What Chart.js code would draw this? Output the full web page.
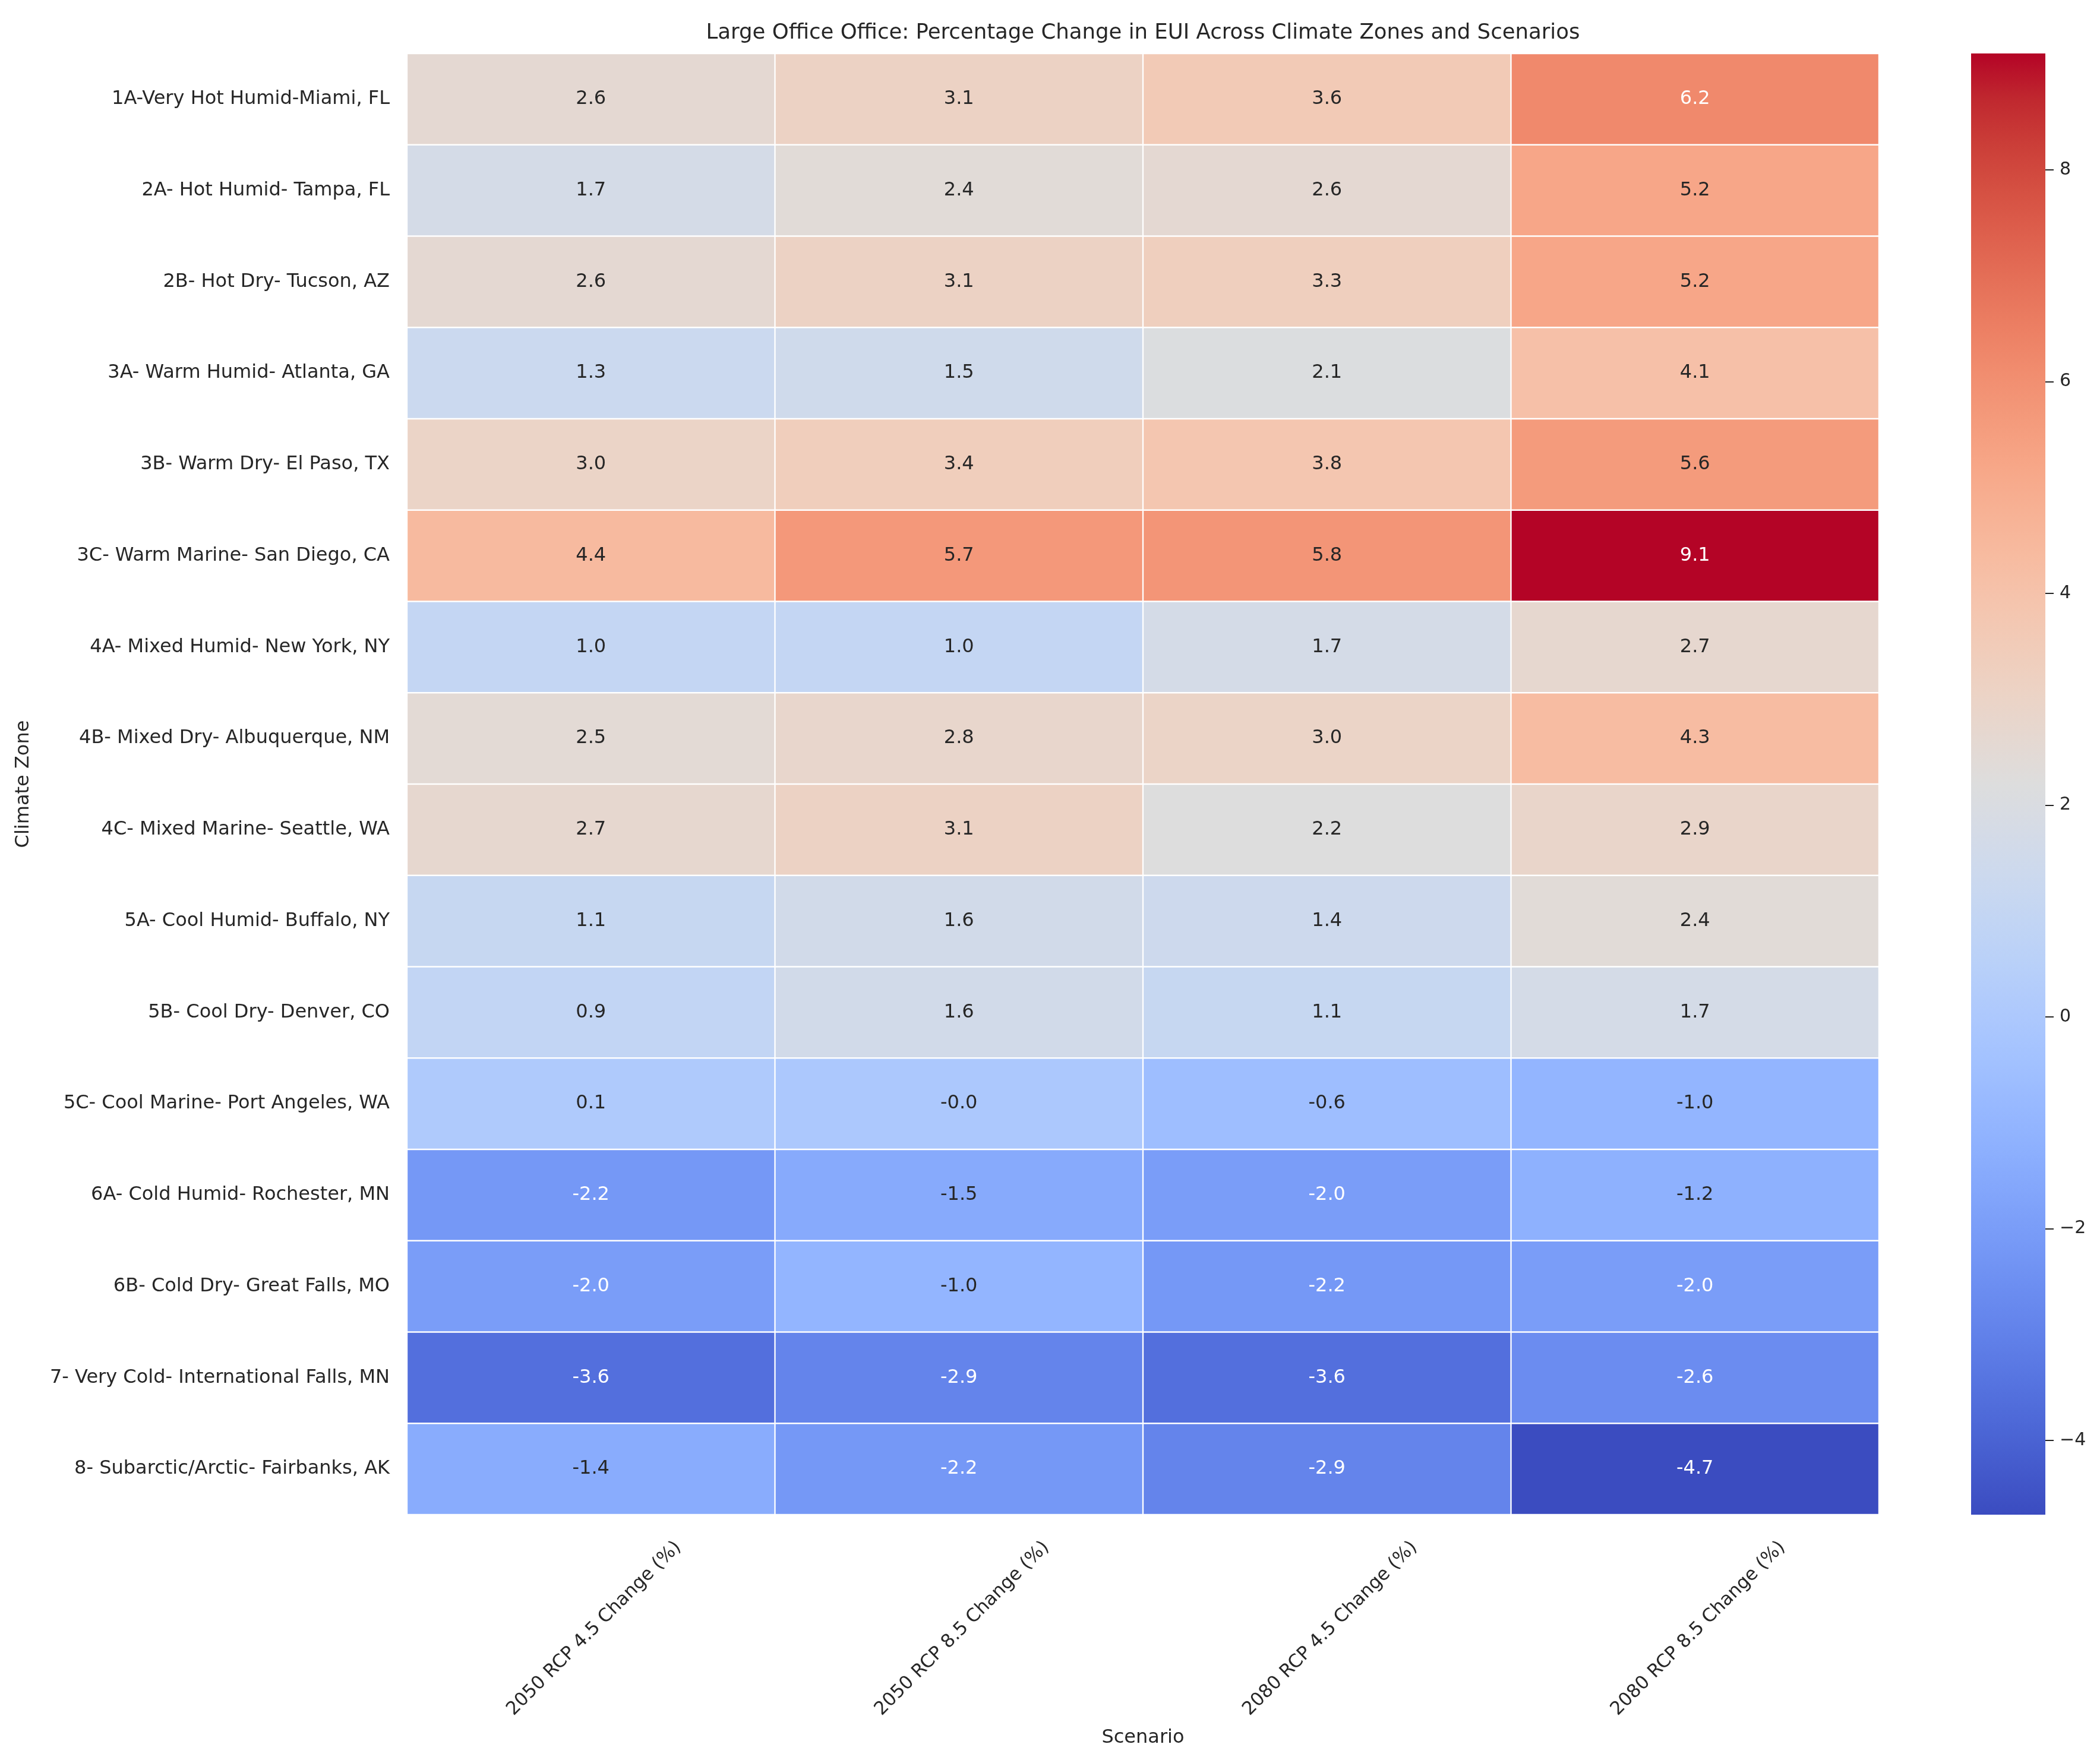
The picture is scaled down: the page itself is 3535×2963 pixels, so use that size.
<!DOCTYPE html>
<html>
<head>
<meta charset="utf-8">
<script src="https://cdn.jsdelivr.net/npm/chart.js@4.4.1/dist/chart.umd.min.js"></script>
<style>
  html, body { margin: 0; padding: 0; background: #ffffff; }
  #wrap { position: relative; width: 3535px; height: 2963px; }
  canvas { position: absolute; top: 0; }
</style>
</head>
<body>
<div id="wrap">
  <canvas id="heatChart" width="3535" height="2963" style="left:0;width:3535px;height:2963px"></canvas>
  <canvas id="scaleChart" width="217" height="2963" style="left:3318px;width:217px;height:2963px"></canvas>
</div>
<script>
// Climate zones (rows, top to bottom)
var zones = [
    '1A-Very Hot Humid-Miami, FL',
    '2A- Hot Humid- Tampa, FL',
    '2B- Hot Dry- Tucson, AZ',
    '3A- Warm Humid- Atlanta, GA',
    '3B- Warm Dry- El Paso, TX',
    '3C- Warm Marine- San Diego, CA',
    '4A- Mixed Humid- New York, NY',
    '4B- Mixed Dry- Albuquerque, NM',
    '4C- Mixed Marine- Seattle, WA',
    '5A- Cool Humid- Buffalo, NY',
    '5B- Cool Dry- Denver, CO',
    '5C- Cool Marine- Port Angeles, WA',
    '6A- Cold Humid- Rochester, MN',
    '6B- Cold Dry- Great Falls, MO',
    '7- Very Cold- International Falls, MN',
    '8- Subarctic/Arctic- Fairbanks, AK'
];

// Scenarios (columns)
var scenarios = [
    '2050 RCP 4.5 Change (%)',
    '2050 RCP 8.5 Change (%)',
    '2080 RCP 4.5 Change (%)',
    '2080 RCP 8.5 Change (%)'
];

// Percentage change in EUI, one array per scenario
var rcp45_2050 = [2.6, 1.7, 2.6, 1.3, 3.0, 4.4, 1.0, 2.5, 2.7, 1.1, 0.9, 0.1, -2.2, -2.0, -3.6, -1.4];
var rcp85_2050 = [3.1, 2.4, 3.1, 1.5, 3.4, 5.7, 1.0, 2.8, 3.1, 1.6, 1.6, -0.02, -1.5, -1.0, -2.9, -2.2];
var rcp45_2080 = [3.6, 2.6, 3.3, 2.1, 3.8, 5.8, 1.7, 3.0, 2.2, 1.4, 1.1, -0.6, -2.0, -2.2, -3.6, -2.9];
var rcp85_2080 = [6.2, 5.2, 5.2, 4.1, 5.6, 9.1, 2.7, 4.3, 2.9, 2.4, 1.7, -1.0, -1.2, -2.0, -2.6, -4.7];
var seriesValues = [rcp45_2050, rcp85_2050, rcp45_2080, rcp85_2080];

// colour bar range and ticks
var cbMin = -4.7;
var cbMax = 9.1;
var cbTicks = [-4, -2, 0, 2, 4, 6, 8];

// coolwarm colormap (33 steps)
var coolwarm = [
    [59,76,192],[68,90,204],[77,104,215],[87,117,225],[98,130,234],[108,142,241],
    [119,154,247],[130,165,251],[141,176,254],[152,185,255],[163,194,255],[174,201,253],
    [184,208,249],[194,213,244],[204,217,238],[213,219,230],[221,221,221],[229,216,209],
    [236,211,197],[241,204,185],[245,196,173],[247,187,160],[247,177,148],[247,166,135],
    [244,154,123],[241,141,111],[236,127,99],[229,112,88],[222,96,77],[213,80,66],
    [203,62,56],[192,40,47],[180,4,38]
];

var FONT = 'DejaVu Sans';
var TEXT = '#262626';

function mapColor(v) {
    var t = (v - cbMin) / (cbMax - cbMin);
    t = Math.max(0, Math.min(1, t));
    var p = t * (coolwarm.length - 1);
    var i = Math.min(coolwarm.length - 2, Math.floor(p));
    var f = p - i;
    var a = coolwarm[i], b = coolwarm[i + 1];
    return [0, 1, 2].map(function (k) { return Math.round(a[k] + (b[k] - a[k]) * f); });
}
function rgb(c) { return 'rgb(' + c[0] + ',' + c[1] + ',' + c[2] + ')'; }
function luminance(c) {
    var l = c.map(function (v) {
        v = v / 255;
        return v <= 0.03928 ? v / 12.92 : Math.pow((v + 0.055) / 1.055, 2.4);
    });
    return 0.2126 * l[0] + 0.7152 * l[1] + 0.0722 * l[2];
}

// write the value in each cell
var cellLabels = {
    id: 'cellLabels',
    afterDatasetsDraw: function (chart) {
        var ctx = chart.ctx;
        ctx.save();
        ctx.font = '32px "' + FONT + '"';
        ctx.textAlign = 'center';
        ctx.textBaseline = 'middle';
        chart.data.datasets.forEach(function (ds, j) {
            chart.getDatasetMeta(j).data.forEach(function (bar, i) {
                var v = seriesValues[j][i];
                ctx.fillStyle = luminance(mapColor(v)) > 0.408 ? TEXT : '#ffffff';
                ctx.fillText(v.toFixed(1), (bar.x + bar.base) / 2, bar.y);
            });
        });
        ctx.restore();
    }
};

// title centred over the heatmap
var heatTitle = {
    id: 'heatTitle',
    afterDraw: function (chart) {
        var ctx = chart.ctx, a = chart.chartArea;
        ctx.save();
        ctx.font = '35.5px "' + FONT + '"';
        ctx.fillStyle = TEXT;
        ctx.textAlign = 'center';
        ctx.textBaseline = 'middle';
        ctx.fillText('Large Office Office: Percentage Change in EUI Across Climate Zones and Scenarios', (a.left + a.right) / 2, 56);
        ctx.restore();
    }
};

var heatChart = new Chart(document.getElementById('heatChart'), {
    type: 'bar',
    data: {
        labels: zones,
        datasets: scenarios.map(function (name, j) {
            return {
                label: name,
                data: zones.map(function () { return [j, j + 1]; }),
                backgroundColor: seriesValues[j].map(function (v) { return rgb(mapColor(v)); }),
                borderColor: '#ffffff',
                borderWidth: 1.5,
                borderSkipped: false,
                grouped: false,
                barPercentage: 1,
                categoryPercentage: 1
            };
        })
    },
    options: {
        indexAxis: 'y',
        responsive: false,
        animation: false,
        devicePixelRatio: 1,
        layout: { padding: { top: 90, right: 372, left: 0, bottom: 0 } },
        plugins: {
            legend: { display: false },
            tooltip: { enabled: false },
            title: { display: false }
        },
        scales: {
            x: {
                type: 'linear',
                min: 0,
                max: 4,
                grid: { display: false, drawTicks: false },
                border: { display: false },
                afterBuildTicks: function (s) {
                    s.ticks = scenarios.map(function (n, j) { return { value: j + 0.5 }; });
                },
                afterFit: function (s) { s.height = 413; },
                ticks: {
                    autoSkip: false,
                    minRotation: 45,
                    maxRotation: 45,
                    labelOffset: 147,
                    padding: 37,
                    color: TEXT,
                    font: { family: FONT, size: 31 },
                    callback: function (v, i) { return scenarios[i]; }
                },
                title: {
                    display: true,
                    text: 'Scenario',
                    color: TEXT,
                    font: { family: FONT, size: 32 },
                    padding: { top: 0, bottom: 18 }
                }
            },
            y: {
                grid: { display: false, drawTicks: false },
                border: { display: false },
                afterFit: function (s) { s.width = 685; },
                ticks: {
                    padding: 29,
                    color: TEXT,
                    font: { family: FONT, size: 32 }
                },
                title: {
                    display: true,
                    text: 'Climate Zone',
                    color: TEXT,
                    font: { family: FONT, size: 32 },
                    padding: { top: 20, bottom: 0 }
                }
            }
        }
    },
    plugins: [cellLabels, heatTitle]
});

// colour bar
var scaleChart = new Chart(document.getElementById('scaleChart'), {
    type: 'bar',
    data: {
        labels: [''],
        datasets: [{
            data: [[cbMin, cbMax]],
            backgroundColor: function (c) {
                var ch = c.chart;
                if (!ch.chartArea) { return rgb(coolwarm[16]); }
                var y = ch.scales.y;
                var g = ch.ctx.createLinearGradient(0, y.getPixelForValue(cbMin), 0, y.getPixelForValue(cbMax));
                coolwarm.forEach(function (col, i) { g.addColorStop(i / (coolwarm.length - 1), rgb(col)); });
                return g;
            },
            borderWidth: 0,
            barPercentage: 1,
            categoryPercentage: 1
        }]
    },
    options: {
        responsive: false,
        animation: false,
        devicePixelRatio: 1,
        layout: { padding: { top: 90, bottom: 413, left: 0, right: 0 } },
        plugins: { legend: { display: false }, tooltip: { enabled: false } },
        scales: {
            x: { display: false },
            y: {
                position: 'right',
                min: cbMin,
                max: cbMax,
                afterBuildTicks: function (s) {
                    s.ticks = cbTicks.map(function (v) { return { value: v }; });
                },
                afterFit: function (s) { s.width = 92; },
                grid: { display: true, drawOnChartArea: false, drawTicks: true, tickLength: 14, color: TEXT, lineWidth: 2 },
                border: { display: false },
                ticks: {
                    padding: 10,
                    color: TEXT,
                    font: { family: FONT, size: 30 },
                    callback: function (v) { return v < 0 ? '\u2212' + Math.abs(v) : String(v); }
                }
            }
        }
    }
});
</script>
</body>
</html>
